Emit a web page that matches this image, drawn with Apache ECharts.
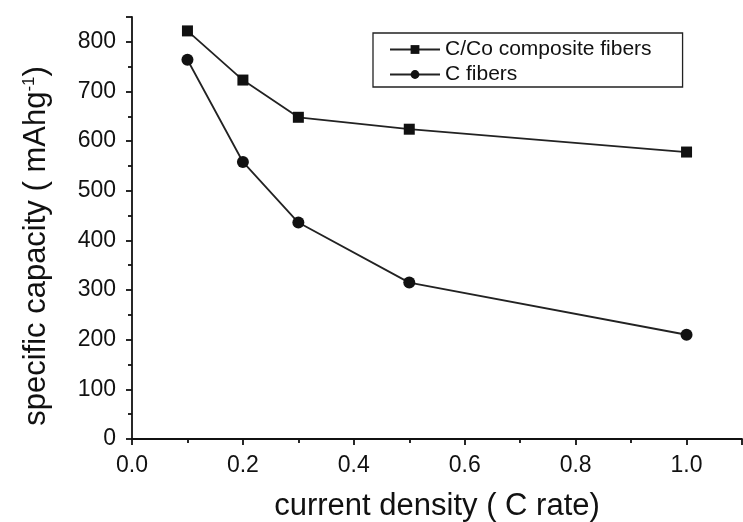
<!DOCTYPE html>
<html>
<head>
<meta charset="utf-8">
<script src="https://cdn.jsdelivr.net/npm/echarts@6/dist/echarts.min.js"></script>
<style>
html,body{margin:0;padding:0;background:#fff;}
#main{width:743px;height:522px;}
</style>
</head>
<body>
<div id="main"></div>
<script>
// data
var rates = [0.1, 0.2, 0.3, 0.5, 1.0];
var cocoFibers = [822, 723, 648, 624, 578];
var cFibers = [764, 558, 436, 315, 210];
var seriesNames = ['C/Co composite fibers', 'C fibers'];

function pairs(xs, ys){
    var out = [];
    for (var i = 0; i < xs.length; i++) out.push([xs[i], ys[i]]);
    return out;
}

var font = 'Liberation Sans, Arial, sans-serif';
var myChart = echarts.init(document.getElementById('main'));
var option = {
    backgroundColor: '#fff',
    animation: false,
    grid: {left: 132, right: 1, top: 17, bottom: 83, outerBoundsMode: 'none'},
    legend: {
        orient: 'vertical',
        left: 373,
        top: 33,
        padding: [6, 31, 2, 16],
        itemGap: 4,
        itemWidth: 50,
        itemHeight: 11,
        borderColor: '#222',
        borderWidth: 1.3,
        textStyle: {fontFamily: font, fontSize: 21, color: '#111'},
        data: seriesNames
    },
    xAxis: {
        type: 'value',
        min: 0, max: 1.1, interval: 0.2,
        name: 'current density ( C rate)',
        nameLocation: 'middle',
        nameGap: 52,
        nameTextStyle: {fontFamily: font, fontSize: 31, color: '#111'},
        axisLine: {lineStyle: {color: '#111', width: 1.8}},
        axisTick: {length: 6, lineStyle: {color: '#111', width: 1.8}},
        minorTick: {show: true, splitNumber: 2, length: 4, lineStyle: {color: '#111', width: 1.8}},
        splitLine: {show: false},
        axisLabel: {
            fontFamily: font, fontSize: 23, color: '#111', margin: 15,
            formatter: function(v){ return v > 1.05 ? '' : v.toFixed(1); }
        }
    },
    yAxis: {
        type: 'value',
        min: 0, max: 850, interval: 100,
        name: '{n|specific capacity ( mAhg}{s|-1}{n|)}',
        nameLocation: 'middle',
        nameGap: 80,
        nameRotate: 90,
        nameTextStyle: {
            padding: [0, 36, 0, 0],
            rich: {
                n: {fontFamily: font, fontSize: 31, color: '#111'},
                s: {fontFamily: font, fontSize: 17, color: '#111', verticalAlign: 'top', padding: [0, 0, 14, 0]}
            }
        },
        axisLine: {lineStyle: {color: '#111', width: 1.8}},
        axisTick: {length: 6, lineStyle: {color: '#111', width: 1.8}},
        minorTick: {show: true, splitNumber: 2, length: 4, lineStyle: {color: '#111', width: 1.8}},
        splitLine: {show: false},
        axisLabel: {
            fontFamily: font, fontSize: 23, color: '#111', margin: 16,
            formatter: function(v){ return v > 810 ? '' : v; }
        }
    },
    series: [{
        name: seriesNames[0],
        type: 'line',
        symbol: 'rect',
        symbolSize: 11,
        data: pairs(rates, cocoFibers),
        itemStyle: {color: '#111'},
        lineStyle: {color: '#222', width: 1.8}
    }, {
        name: seriesNames[1],
        type: 'line',
        symbol: 'circle',
        symbolSize: 12,
        data: pairs(rates, cFibers),
        itemStyle: {color: '#111'},
        lineStyle: {color: '#222', width: 1.8}
    }]
};
myChart.setOption(option);
</script>
</body>
</html>
